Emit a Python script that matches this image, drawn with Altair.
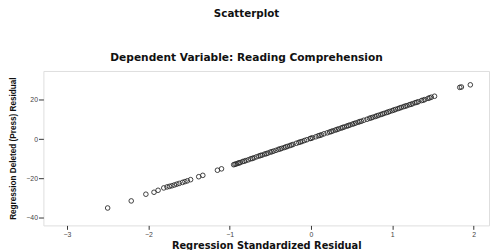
import altair as alt
import pandas as pd

# Regression Standardized Residual (x) and Regression Deleted (Press) Residual (y)
x_vals = [
    -2.50, -2.21, -2.03, -1.93, -1.88, -1.81, -1.77, -1.74, -1.71, -1.68,
    -1.65, -1.62, -1.58, -1.55, -1.52, -1.48, -1.38, -1.33, -1.15, -1.10,
    -0.95, -0.92, -0.90, -0.87, -0.84, -0.80, -0.77, -0.74, -0.70, -0.67,
    -0.64, -0.60, -0.57, -0.53, -0.50, -0.46, -0.43, -0.40, -0.36, -0.33,
    -0.29, -0.26, -0.22, -0.18, -0.15, -0.11, -0.08, -0.05, -0.01, 0.02,
    0.06, 0.09, 0.13, 0.16, 0.20, 0.23, 0.27, 0.30, 0.34, 0.37,
    0.41, 0.44, 0.48, 0.51, 0.55, 0.58, 0.62, 0.65, 0.69, 0.72,
    0.76, 0.79, 0.83, 0.86, 0.90, 0.93, 0.97, 1.00, 1.04, 1.07,
    1.11, 1.14, 1.18, 1.21, 1.25, 1.28, 1.32, 1.36, 1.40, 1.44,
    1.48, 1.52,
    -0.935, -0.885, -0.82, -0.72, -0.62, -0.55, -0.48, -0.38, -0.31, -0.24,
    -0.13, 0.00, 0.11, 0.25, 0.32, 0.39, 0.46, 0.53, 0.60, 0.74,
    0.81, 0.88, 0.95, 1.02, 1.09, 1.16, 1.23, 1.30, 1.38, 1.46,
    1.83, 1.85, 1.96,
]
y_vals = [
    -35.0, -31.4, -28.0, -27.0, -26.0, -24.8, -24.3, -24.0, -23.7, -23.3,
    -22.9, -22.5, -22.0, -21.6, -21.2, -20.6, -19.1, -18.4, -15.8, -15.1,
    -13.0, -12.6, -12.3, -11.9, -11.4, -10.9, -10.5, -10.0, -9.5, -9.0,
    -8.6, -8.1, -7.6, -7.1, -6.6, -6.1, -5.7, -5.2, -4.7, -4.3,
    -3.7, -3.3, -2.7, -2.1, -1.7, -1.2, -0.7, -0.3, 0.3, 0.7,
    1.2, 1.7, 2.2, 2.7, 3.2, 3.6, 4.2, 4.6, 5.2, 5.6,
    6.2, 6.6, 7.2, 7.6, 8.2, 8.6, 9.1, 9.6, 10.1, 10.6,
    11.1, 11.5, 12.1, 12.5, 13.1, 13.5, 14.1, 14.5, 15.1, 15.5,
    16.1, 16.5, 17.0, 17.5, 18.0, 18.5, 19.0, 19.6, 20.1, 20.7,
    21.3, 21.8,
    -12.8, -12.1, -11.2, -9.8, -8.3, -7.4, -6.4, -5.0, -4.0, -3.0,
    -1.4, 0.4, 1.9, 3.9, 4.9, 5.9, 6.9, 7.9, 8.9, 10.8,
    11.8, 12.8, 13.8, 14.8, 15.8, 16.8, 17.7, 18.7, 19.8, 21.0,
    26.3, 26.5, 27.6,
]
x_ticks = [-3, -2, -1, 0, 1, 2]
y_ticks = [-40, -20, 0, 20]

df = pd.DataFrame({"x": x_vals, "y": y_vals})

title_font = "DejaVu Sans"

chart = (
    alt.Chart(df)
    .mark_point(shape="circle", filled=False, size=22, stroke="#2a2a2a", strokeWidth=0.9, opacity=1)
    .encode(
        x=alt.X(
            "x:Q",
            scale=alt.Scale(domain=[-3.29, 2.19], nice=False, zero=False),
            axis=alt.Axis(
                values=x_ticks,
                title="Regression Standardized Residual",
                titleFont=title_font,
                titleFontSize=10,
                titleFontWeight="bold",
                titleColor="#111111",
                titleBaseline="middle",
                titleY=20,
                labelFont="Liberation Sans",
                labelFontSize=7,
                labelColor="#444444",
                labelPadding=1,
                tickSize=4,
                tickColor="#333333",
                domain=False,
                grid=False,
            ),
        ),
        y=alt.Y(
            "y:Q",
            scale=alt.Scale(domain=[-43.85, 34.65], nice=False, zero=False),
            axis=alt.Axis(
                values=y_ticks,
                title="Regression Deleted (Press) Residual",
                titleFont="Liberation Sans",
                titleFontSize=8.3,
                titleFontWeight="bold",
                titleColor="#111111",
                titleX=-30,
                titleBaseline="middle",
                labelFont="Liberation Sans",
                labelFontSize=7,
                labelColor="#444444",
                labelPadding=1,
                tickSize=5,
                tickColor="#333333",
                domain=False,
                grid=False,
            ),
        ),
    )
    .properties(
        width=453,
        height=157,
        title=alt.TitleParams(
            text="Scatterplot",
            subtitle="Dependent Variable: Reading Comprehension",
            font=title_font,
            fontSize=10.5,
            fontWeight="bold",
            color="#111111",
            subtitleFont=title_font,
            subtitleFontSize=10.8,
            subtitleFontWeight="bold",
            subtitleColor="#111111",
            subtitlePadding=34,
            anchor="middle",
            dx=-20,
            offset=8,
        ),
        autosize=alt.AutoSizeParams(type="none"),
        padding={"left": 36, "top": 62, "right": 2, "bottom": 23},
    )
    .configure_view(fill="#f0f0f0", stroke="#444444", strokeWidth=1)
    .configure(background="white")
)

chart.save("out.html", embed_options={"renderer": "svg", "actions": False})
